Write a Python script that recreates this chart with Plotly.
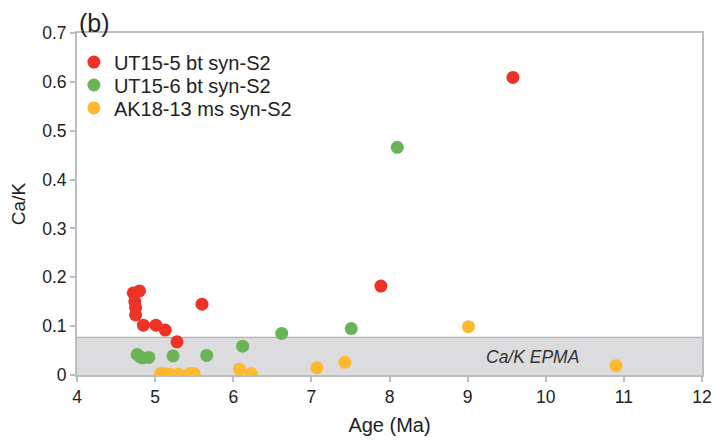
import plotly.graph_objects as go

# Data
ut155_age = [4.72, 4.80, 4.74, 4.75, 4.75, 4.85, 5.01, 5.13, 5.28, 5.60, 7.89, 9.58]
ut155_cak = [0.168, 0.172, 0.150, 0.138, 0.123, 0.102, 0.102, 0.092, 0.068, 0.145, 0.182, 0.609]

ut156_age = [4.77, 4.81, 4.84, 4.92, 5.23, 5.66, 6.12, 6.62, 7.51, 8.10]
ut156_cak = [0.042, 0.037, 0.035, 0.036, 0.039, 0.040, 0.059, 0.085, 0.095, 0.466]

ak1813_age = [5.07, 5.12, 5.19, 5.30, 5.44, 5.50, 6.08, 6.23, 7.07, 7.43, 9.01, 10.90]
ak1813_cak = [0.003, 0.003, 0.002, 0.002, 0.003, 0.003, 0.012, 0.003, 0.015, 0.026, 0.099, 0.019]

epma_limit = 0.077
x_ticks = [4, 5, 6, 7, 8, 9, 10, 11, 12]
y_ticks = [0, 0.1, 0.2, 0.3, 0.4, 0.5, 0.6, 0.7]
y_ticklabels = ["0", "0.1", "0.2", "0.3", "0.4", "0.5", "0.6", "0.7"]

FONT = "Liberation Sans, Arial, sans-serif"
AXIS_GREY = "#BCBDC0"

fig = go.Figure()

# EPMA detection band
fig.add_shape(type="rect", xref="x", yref="y", x0=4, x1=12, y0=0, y1=epma_limit,
              fillcolor="#DCDCDE", line=dict(width=0), layer="below")
fig.add_shape(type="line", xref="x", yref="y", x0=4, x1=12, y0=epma_limit, y1=epma_limit,
              line=dict(color="#B2B3B6", width=1.2), layer="below")

series = [
    ("UT15-5 bt syn-S2", ut155_age, ut155_cak, "#EE3326", "legend"),
    ("UT15-6 bt syn-S2", ut156_age, ut156_cak, "#68B456", "legend2"),
    ("AK18-13 ms syn-S2", ak1813_age, ak1813_cak, "#FDB92F", "legend3"),
]
for name, xs, ys, col, lg in series:
    fig.add_trace(go.Scatter(x=xs, y=ys, mode="markers", name=name, legend=lg,
                             marker=dict(color=col, size=13, line=dict(width=0))))

fig.add_annotation(x=9.83, y=0.037, xref="x", yref="y", text="<i>Ca/K EPMA</i>",
                   showarrow=False, font=dict(family=FONT, size=17.5, color="#333333"))
fig.add_annotation(x=0.0, y=1.0, xref="paper", yref="paper", yanchor="bottom", xanchor="left",
                   yshift=-6, xshift=0, text="(b)", showarrow=False,
                   font=dict(family=FONT, size=25, color="#222222"))

leg_common = dict(x=-0.005, xanchor="left", yanchor="middle",
                  font=dict(family=FONT, size=20, color="#222222"),
                  bgcolor="rgba(0,0,0,0)", itemwidth=30, tracegroupgap=0)

fig.update_layout(
    width=718, height=445,
    margin=dict(l=77, r=16, t=33, b=70),
    paper_bgcolor="white", plot_bgcolor="white",
    font=dict(family=FONT, size=17.5, color="#222222"),
    showlegend=True,
    legend=dict(y=0.915, **leg_common),
    legend2=dict(y=0.848, **leg_common),
    legend3=dict(y=0.781, **leg_common),
    xaxis=dict(range=[4, 12], tickvals=x_ticks, ticktext=[str(v) for v in x_ticks],
               automargin=False,
               showgrid=False, zeroline=False, showline=True, linecolor=AXIS_GREY,
               linewidth=2, mirror=True, ticks="outside", ticklen=5, tickcolor=AXIS_GREY,
               tickwidth=2, title=dict(text="Age (Ma)", font=dict(size=20), standoff=12)),
    yaxis=dict(range=[0, 0.7], tickvals=y_ticks, ticktext=y_ticklabels,
               automargin=False,
               showgrid=False, zeroline=False, showline=True, linecolor=AXIS_GREY,
               linewidth=2, mirror=True, ticks="outside", ticklen=5, tickcolor=AXIS_GREY,
               tickwidth=2, title=dict(text="Ca/K", font=dict(size=19), standoff=12)),
)

fig.write_html("out.html")
